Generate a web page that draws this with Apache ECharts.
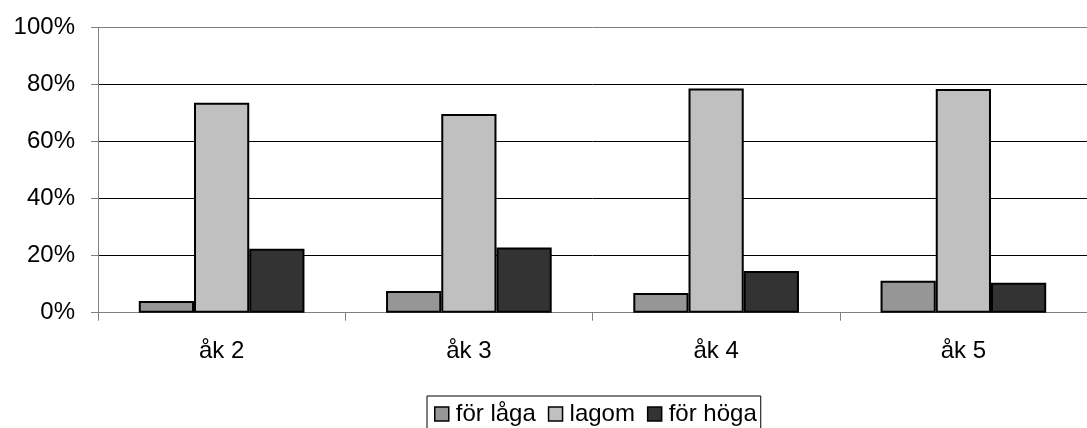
<!DOCTYPE html>
<html>
<head>
<meta charset="utf-8">
<script src="https://cdn.jsdelivr.net/npm/echarts@6/dist/echarts.min.js"></script>
<style>
html,body{margin:0;padding:0;background:#fff;}
#c{width:1087px;height:428px;}
</style>
</head>
<body>
<div id="c"></div>
<script>
var categories = ['åk 2', 'åk 3', 'åk 4', 'åk 5'];
var seriesNames = ['för låga', 'lagom', 'för höga'];
var forLaga = [4.1, 7.6, 6.9, 11.2];
var lagom = [73.7, 69.7, 78.7, 78.5];
var forHoga = [22.4, 22.9, 14.6, 10.5];
var yTicks = [0, 20, 40, 60, 80, 100];
var colors = ['#969696', '#C0C0C0', '#333333'];

var font = 'Liberation Sans, Arial, sans-serif';
var chart = echarts.init(document.getElementById('c'), null, {renderer: 'canvas'});

function bar(name, data, color) {
  return {
    name: name,
    type: 'bar',
    data: data,
    barGap: '0%',
    barCategoryGap: '33%',
    itemStyle: {color: color, borderColor: '#000', borderWidth: 2},
    emphasis: {disabled: true}
  };
}

chart.setOption({
  animation: false,
  textStyle: {fontFamily: font},
  grid: {left: 98, right: -10, top: 27.7, bottom: 115.3, containLabel: false,
         show: false},
  legend: {
    data: seriesNames,
    left: 427,
    top: 396,
    orient: 'horizontal',
    icon: 'rect',
    itemWidth: 14,
    itemHeight: 14,
    itemGap: 12,
    padding: [6, 4, 12, 7],
    borderColor: '#000',
    borderWidth: 1,
    borderRadius: 0,
    textStyle: {fontFamily: font, fontSize: 24, color: '#000', padding: [0, 0, 0, 2]},
    itemStyle: {borderColor: '#000', borderWidth: 1.5}
  },
  xAxis: {
    type: 'category',
    data: categories,
    axisLine: {lineStyle: {color: '#808080', width: 1}},
    axisTick: {show: true, length: 8, lineStyle: {color: '#808080'}},
    axisLabel: {fontFamily: font, fontSize: 24, color: '#000', margin: 27}
  },
  yAxis: {
    type: 'value',
    min: 0,
    max: 100,
    interval: 20,
    axisLine: {show: true, lineStyle: {color: '#808080', width: 1}},
    axisTick: {show: true, length: 7, lineStyle: {color: '#808080'}},
    axisLabel: {fontFamily: font, fontSize: 24, color: '#000', margin: 23,
      formatter: function (v) { return yTicks.indexOf(v) >= 0 ? v + '%' : ''; }},
    splitLine: {show: true, lineStyle: {color: ['#000', '#000', '#000', '#000', '#000', '#808080'], width: 1}}
  },
  series: [
    bar(seriesNames[0], forLaga, colors[0]),
    bar(seriesNames[1], lagom, colors[1]),
    bar(seriesNames[2], forHoga, colors[2])
  ]
});
</script>
</body>
</html>
